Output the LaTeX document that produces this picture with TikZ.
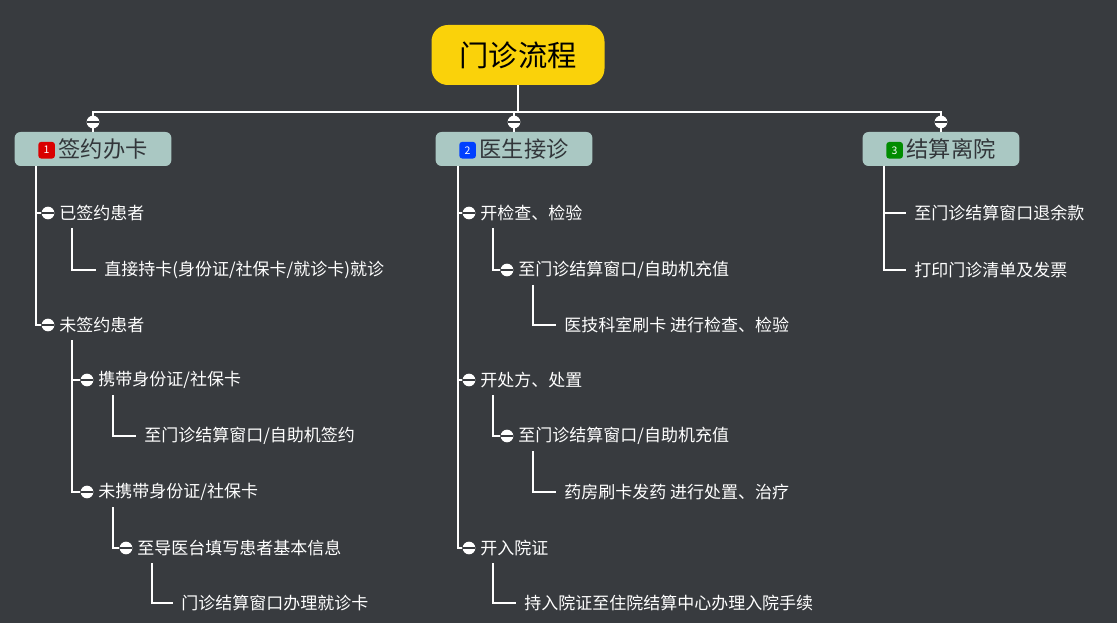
\documentclass[tikz,border=0pt]{standalone}
\usepackage{fontspec}
\setmainfont{Noto Sans CJK SC}
\usetikzlibrary{positioning}
\definecolor{bg}{RGB}{56, 59, 63}
\definecolor{teal}{RGB}{170, 200, 195}
\definecolor{gold}{RGB}{250, 210, 10}
\definecolor{ink}{RGB}{50, 54, 58}
\tikzset{
  wire/.style={white, line width=1.4pt},
  knob/.style={circle, fill=white, minimum size=0.38cm, inner sep=0pt,
    path picture={\draw[bg, line width=0.9pt] (path picture bounding box.west) -- (path picture bounding box.east);}},
  item/.style={anchor=west, white, inner sep=1pt, font=\fontsize{14.5}{16}\selectfont},
  branch/.style={rounded corners=5pt, fill=teal, text=ink, minimum width=4.7cm, minimum height=1.02cm,
    font=\fontsize{19}{21}\selectfont},
  badge/.style={rounded corners=2.5pt, fill=#1, text=white, inner sep=0pt, minimum size=0.5cm,
    font=\fontsize{9}{10}\selectfont\itshape}
}
\begin{document}
\begin{tikzpicture}[x=0.03cm, y=-0.03cm]
  \fill[bg] (0, 0) rectangle (1117, 623);
  \useasboundingbox (0, 0) rectangle (1117, 623);

  % root and branches
  \node[rounded corners=14pt, fill=gold, minimum width=5.19cm, minimum height=1.8cm,
    font=\fontsize{25}{27}\selectfont] (root) at (518, 55) {门诊流程};
  \node[branch] (b1) at (93, 149) {\tikz[baseline=-0.6ex]\node[badge=red!85!black]{1};\,签约办卡};
  \node[branch] (b2) at (514, 149) {\tikz[baseline=-0.6ex]\node[badge=blue!75!cyan]{2};\,医生接诊};
  \node[branch] (b3) at (941, 149) {\tikz[baseline=-0.6ex]\node[badge=green!55!black]{3};\,结算离院};

  \coordinate (bar) at (518, 112);
  \draw[wire] (root) -- (bar);
  \draw[wire] (bar) -| (b1.north);
  \draw[wire] (bar) -| (b3.north);
  \draw[wire] (bar -| b2.north) -- (b2.north);
  \foreach \b in {b1, b2, b3}
    \node[knob] at ([yshift=-0.3cm]\b.north |- bar) {};

  % branch 1
  \coordinate (v1) at (36, 166);
  \node[knob] (k11) at (48, 213) {};
  \node[item, right=3pt of k11] (t11) {已签约患者};
  \coordinate (v11) at (72, 228);
  \node[item] (t111) at (103, 270) {直接持卡(身份证/社保卡/就诊卡)就诊};
  \node[knob] (k12) at (48, 325) {};
  \node[item, right=3pt of k12] (t12) {未签约患者};
  \coordinate (v12) at (72, 340);
  \node[knob] (k121) at (87, 380) {};
  \node[item, right=3pt of k121] (t121) {携带身份证/社保卡};
  \coordinate (v121) at (113, 395);
  \node[item] (t1211) at (143, 436) {至门诊结算窗口/自助机签约};
  \node[knob] (k122) at (87, 492) {};
  \node[item, right=3pt of k122] (t122) {未携带身份证/社保卡};
  \coordinate (v122) at (113, 507);
  \node[knob] (k1221) at (126, 548) {};
  \node[item, right=3pt of k1221] (t1221) {至导医台填写患者基本信息};
  \coordinate (v1221) at (152, 563);
  \node[item] (t12211) at (180, 603) {门诊结算窗口办理就诊卡};

  \draw[wire] (v1) |- (k11);
  \draw[wire] (v1) |- (k12);
  \draw[wire] (v11) |- ([xshift=-6pt]t111.west);
  \draw[wire] (v12) |- (k121);
  \draw[wire] (v12) |- (k122);
  \draw[wire] (v121) |- ([xshift=-6pt]t1211.west);
  \draw[wire] (v122) |- (k1221);
  \draw[wire] (v1221) |- ([xshift=-6pt]t12211.west);

  % branch 2
  \coordinate (v2) at (458, 166);
  \node[knob] (k21) at (469, 213) {};
  \node[item, right=3pt of k21] (t21) {开检查、检验};
  \coordinate (v21) at (493, 228);
  \node[knob] (k211) at (507, 270) {};
  \node[item, right=3pt of k211] (t211) {至门诊结算窗口/自助机充值};
  \coordinate (v211) at (533, 285);
  \node[item] (t2111) at (563, 325) {医技科室刷卡 进行检查、检验};
  \node[knob] (k22) at (469, 380) {};
  \node[item, right=3pt of k22] (t22) {开处方、处置};
  \coordinate (v22) at (493, 395);
  \node[knob] (k221) at (507, 436) {};
  \node[item, right=3pt of k221] (t221) {至门诊结算窗口/自助机充值};
  \coordinate (v221) at (533, 451);
  \node[item] (t2211) at (563, 492) {药房刷卡发药 进行处置、治疗};
  \node[knob] (k23) at (469, 548) {};
  \node[item, right=3pt of k23] (t23) {开入院证};
  \coordinate (v23) at (493, 563);
  \node[item] (t231) at (523, 603) {持入院证至住院结算中心办理入院手续};

  \draw[wire] (v2) |- (k21);
  \draw[wire] (v2) |- (k22);
  \draw[wire] (v2) |- (k23);
  \draw[wire] (v21) |- (k211);
  \draw[wire] (v211) |- ([xshift=-6pt]t2111.west);
  \draw[wire] (v22) |- (k221);
  \draw[wire] (v221) |- ([xshift=-6pt]t2211.west);
  \draw[wire] (v23) |- ([xshift=-6pt]t231.west);

  % branch 3
  \coordinate (v3) at (884, 166);
  \node[item] (t31) at (913, 213) {至门诊结算窗口退余款};
  \node[item] (t32) at (913, 270) {打印门诊清单及发票};
  \draw[wire] (v3) |- ([xshift=-6pt]t31.west);
  \draw[wire] (v3) |- ([xshift=-6pt]t32.west);
\end{tikzpicture}
\end{document}
